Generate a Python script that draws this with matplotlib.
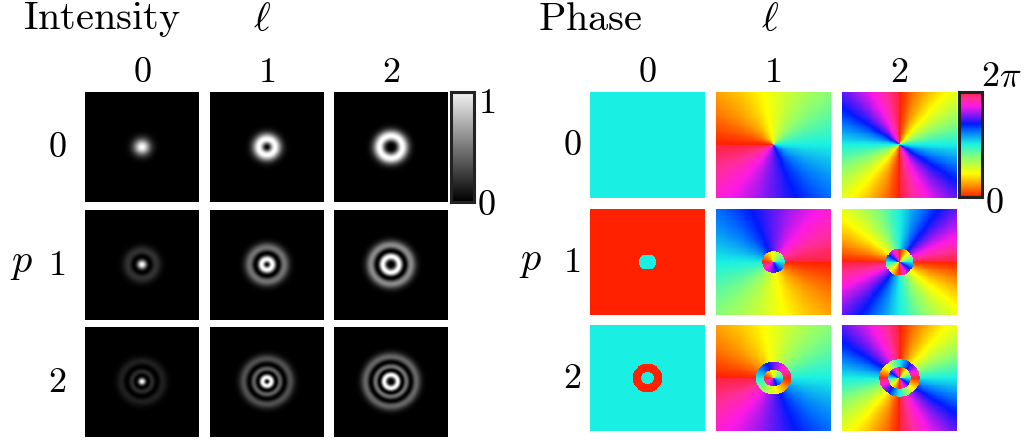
import matplotlib
matplotlib.use("Agg")
import matplotlib.pyplot as plt
import numpy as np
from math import comb, factorial
from matplotlib.colors import LinearSegmentedColormap

plt.rcParams['mathtext.fontset'] = 'cm'

# mode indices
p_values = [0, 1, 2]
l_values = [0, 1, 2]

# grid in units of the beam waist
half_width = 4.9
n_pix = 121

# phase colour wheel (0 -> 2pi)
phase_pos = [0.0, 0.10, 0.22, 0.37, 0.50, 0.62, 0.69, 0.78, 0.86, 0.93, 1.0]
phase_rgb = [(1.00, 0.13, 0.00), (1.00, 0.55, 0.00), (1.00, 1.00, 0.00),
             (0.55, 1.00, 0.45), (0.10, 0.95, 0.89), (0.00, 0.45, 1.00),
             (0.00, 0.10, 1.00), (0.55, 0.10, 0.95), (1.00, 0.10, 0.90),
             (1.00, 0.18, 0.60), (1.00, 0.14, 0.25)]
phase_cmap = LinearSegmentedColormap.from_list('phase', list(zip(phase_pos, phase_rgb)))

# grey scale used for the intensity maps
grey_cmap = LinearSegmentedColormap.from_list('grey', [(0, 0, 0), (0.96, 0.96, 0.96)])


def laguerre(p, l, x):
    return sum((-1)**m * comb(p + l, p - m) * x**m / factorial(m) for m in range(p + 1))


def lg_field(p, l):
    x = np.linspace(-half_width, half_width, n_pix)
    X, Y = np.meshgrid(x, x)
    r = np.hypot(X, Y)
    phi = np.arctan2(Y, X)
    return (np.sqrt(2) * r)**l * laguerre(p, l, 2 * r**2) * np.exp(-r**2) * np.exp(1j * l * phi)


W, H = 1024, 440
fig = plt.figure(figsize=(W / 100, H / 100), dpi=100)


def add_ax(x0, y0, w, h):
    return fig.add_axes([x0 / W, 1 - (y0 + h) / H, w / W, h / H])


def label(x, y, s, size=26):
    fig.text(x / W, 1 - y / H, s, fontsize=size, ha='center', va='center')


int_x = [85, 210, 334]
int_y = [92, 210, 327]
ph_x = [590, 716, 842]
ph_y = [92, 209, 325]

for i, p in enumerate(p_values):
    for j, l in enumerate(l_values):
        u = lg_field(p, l)
        inten = np.abs(u)**2
        inten = inten / inten.max()
        ax = add_ax(int_x[j], int_y[i], 114, 110)
        ax.imshow(inten, cmap='gray', vmin=0, vmax=1, aspect='auto', interpolation='bilinear')
        ax.axis('off')

        phase = np.mod(np.angle(u) + np.pi, 2 * np.pi)
        ax = add_ax(ph_x[j], ph_y[i], 115, 106)
        ax.imshow(phase, cmap=phase_cmap, vmin=0, vmax=2 * np.pi, aspect='auto',
                  interpolation='nearest')
        ax.axis('off')

# colour bars
for (cx, cy, ch, cmap) in [(451, 92, 110, grey_cmap), (959, 92, 105, phase_cmap)]:
    cax = add_ax(cx, cy, 23, ch)
    cax.imshow(np.linspace(1, 0, 200)[:, None], cmap=cmap, aspect='auto',
               extent=[0, 1, 0, 1])
    cax.set_xticks([])
    cax.set_yticks([])
    for s in cax.spines.values():
        s.set_linewidth(2.2)
        s.set_color('#222222')

label(487, 103, '$1$', 26)
label(486, 205, '$0$', 26)
label(1001, 76, r'$2\pi$', 26)
label(994, 203, '$0$', 26)

# titles and index labels
label(102, 19, r'$\mathrm{Intensity}$', 29)
label(590, 19, r'$\mathrm{Phase}$', 29)
label(262, 20, r'$\ell$', 29)
label(770, 20, r'$\ell$', 29)

for j, l in enumerate(l_values):
    label(int_x[j] + 57, 72, f'${l}$')
    label(ph_x[j] + 57, 72, f'${l}$')

for i, p in enumerate(p_values):
    label(57, int_y[i] + 55, f'${p}$')
    label(572, ph_y[i] + 53, f'${p}$')

label(22, 262, '$p$', 29)
label(531, 260, '$p$', 29)

fig.savefig('out.png', dpi=100)
